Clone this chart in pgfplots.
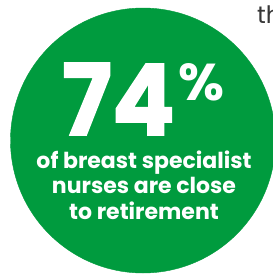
\documentclass[border=0pt]{standalone}
\usepackage{pgfplots}
\pgfplotsset{compat=1.18}
\usepackage{fontspec}
\setmainfont{Poppins}
\newfontfamily\heavyfont{Poppins}[UprightFont=*-Bold, UprightFeatures={FakeBold=1.6}]
\definecolor{bcgreen}{RGB}{0,155,62}
\definecolor{txtgrey}{RGB}{55,55,55}
\begin{document}
\begin{tikzpicture}
\useasboundingbox (0,0) rectangle (273pt,274pt);
\clip (0,0) rectangle (273pt,274pt);
\fill[white] (0,0) rectangle (273pt,274pt);
\begin{axis}[
  at={(0,0)}, anchor=south west,
  scale only axis, width=273pt, height=274pt,
  xmin=0, xmax=273, ymin=0, ymax=274, y dir=reverse,
  hide axis, clip=true,
]
\addplot[only marks, mark=*, mark size=132.5pt, color=bcgreen, mark options={draw=bcgreen, fill=bcgreen}] coordinates {(143,140.5)};
\coordinate (pA) at (axis cs:118.5,135);
\coordinate (pB) at (axis cs:201.5,100);
\coordinate (pC) at (axis cs:144,168);
\coordinate (pD) at (axis cs:144,193.5);
\coordinate (pE) at (axis cs:144,219.5);
\coordinate (pF) at (axis cs:257,23);
\end{axis}
\node[anchor=base, text=white, font=\heavyfont\fontsize{100}{100}\selectfont, inner sep=0pt] at (pA) {\resizebox{113pt}{72pt}{74}};
\node[anchor=base, text=white, font=\bfseries\fontsize{50}{50}\selectfont, inner sep=0pt] at (pB) {\resizebox{46pt}{37pt}{\%}};
\node[anchor=base, text=white, font=\bfseries\fontsize{22}{22}\selectfont, inner sep=0pt] at (pC) {of breast specialist};
\node[anchor=base, text=white, font=\bfseries\fontsize{22}{22}\selectfont, inner sep=0pt] at (pD) {nurses are close};
\node[anchor=base, text=white, font=\bfseries\fontsize{22}{22}\selectfont, inner sep=0pt] at (pE) {to retirement};
\node[anchor=base west, text=txtgrey, font=\fontsize{24}{24}\selectfont, inner sep=0pt] at (pF) {the};
\end{tikzpicture}
\end{document}
